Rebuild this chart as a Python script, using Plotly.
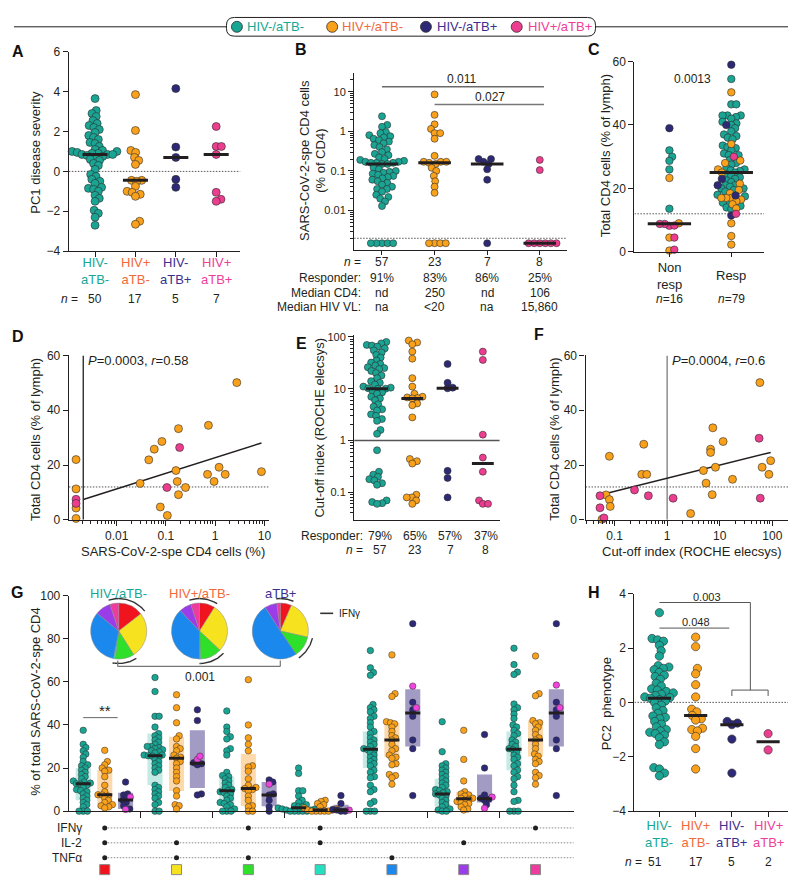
import numpy as np
import plotly.graph_objects as go

W, H = 796, 880
FONT = "Liberation Sans, Arial, Helvetica, sans-serif"
INK = "#231f20"

# ---------------- groups / colours ----------------
GROUP_NAMES = ["HIV-/aTB-", "HIV+/aTB-", "HIV-/aTB+", "HIV+/aTB+"]
GROUP_TICKS = ["HIV-<br>aTB-", "HIV+<br>aTB-", "HIV-<br>aTB+", "HIV+<br>aTB+"]
MARK = ["#19a493", "#f9a11b", "#2e2977", "#ec3d8f"]
TEXTC = ["#17a797", "#f2693b", "#3b3090", "#ee3e9a"]
MAGENTA = "#ee45dc"

# ---------------- panel A : PC1 disease severity ----------------
A_N = [50, 17, 5, 7]
A_TEAL = [3.65, 3.05, 2.9, 2.75, 2.55, 2.4, 2.3, 2.2, 2.1, 1.95, 1.8, 1.7, 1.6, 1.45, 1.4, 1.25, 1.1,
          1.05, 1.0, 1.0, 0.95, 0.9, 0.9, 0.85, 0.85, 0.85, 0.8, 0.75, 0.7, 0.6, 0.55, 0.4, 0.3, 0.1,
          -0.15, -0.25, -0.4, -0.5, -0.6, -0.8, -0.85, -0.9, -1.0, -1.2, -1.35, -1.5, -1.95, -2.1, -2.3, -2.7]
A_ORANGE = [3.85, 2.05, 1.05, 0.95, 0.7, 0.55, 0.35, -0.45, -0.45, -0.5, -0.75, -1.0, -1.05, -1.15, -1.25, -2.5, -2.65]
A_NAVY = [4.15, 1.22, 0.7, -0.4, -0.8]
A_PINK = [2.25, 1.25, 1.25, 0.85, -1.05, -1.4, -1.5]

# ---------------- panel B : SARS-CoV-2-specific CD4 (% of CD4) ----------------
B_ZERO = 0.0015          # plotted value of non-responders
B_LOD = 0.002            # detection threshold (dotted)
B_TEAL = [2.4, 1.45, 1.3, 0.95, 0.9, 0.8, 0.75, 0.7, 0.65, 0.6, 0.55, 0.5, 0.45, 0.4, 0.35, 0.3, 0.27, 0.25,
          0.22, 0.2, 0.19, 0.18, 0.17, 0.17, 0.16, 0.16, 0.16, 0.15, 0.15,
          0.12, 0.11, 0.1, 0.095, 0.09, 0.085, 0.08, 0.075, 0.07, 0.065, 0.06, 0.055, 0.05, 0.045, 0.04,
          0.035, 0.035, 0.03, 0.025, 0.022, 0.02, 0.017, 0.013]
B_ORANGE = [8.5, 2.6, 1.5, 1.15, 0.9, 0.9, 0.65, 0.24, 0.17, 0.17, 0.17, 0.16, 0.15, 0.12, 0.1, 0.075, 0.055, 0.04, 0.028]
B_NAVY = [0.2, 0.2, 0.17, 0.15, 0.11, 0.06]
B_PINK = [0.19, 0.105]
B_NONRESP = [5, 4, 1, 6]
B_N = ["57", "23", "7", "8"]
B_RESP = ["91%", "83%", "86%", "25%"]
B_CD4 = ["nd", "250", "nd", "106"]
B_VL = ["na", "&lt;20", "na", "15,860"]
B_PVALS = ["0.011", "0.027"]

# ---------------- panel C : total CD4 by responder status ----------------
C_CATS = ["Non<br>resp", "Resp"]
C_N = [16, 79]
C_NR = [[32, 30, 28.7, 26, 13.6], [23.3, 9, 4.5, 0.4], [39], [8.2, 8.8, 8.8, 8.3, 4.5, 0.7]]
C_R = [[54.5, 46.5, 46.5, 43, 43, 43, 42.5, 42, 41, 40.5, 40, 39, 38, 37, 36.5, 36, 35.5, 33.5, 33, 32.7,
        32, 31, 30.5, 30.5, 29, 28, 27.5, 26.5, 26, 25.7, 25.5, 25, 24.5, 24, 23.5, 23, 22.5, 22, 21, 21,
        20.5, 20, 20, 19.5, 19, 18, 17.5, 15.5, 15.5, 14.5, 14, 13.5],
       [50.3, 34, 28.8, 28, 26, 25, 21.5, 19.5, 18.5, 17, 17, 17, 16.5, 16, 15, 13.7, 9, 5, 2.3],
       [59, 40, 23, 21, 17.8, 11.5],
       [30, 12]]
C_P = "0.0013"
CD4_CUT = 12

# ---------------- panel D : CD4 vs SARS-CoV-2-spe CD4 ----------------
D_ZERO = 0.0015
D_VLINE = 0.0021
D_ORANGE_X = [2.75, 0.73, 0.18, 0.083, 0.058, 0.045, 0.16, 0.03, 1.2, 0.7, 1.6, 0.95, 0.17, 0.25, 0.18, 8.7, 0.077, 0.107]
D_ORANGE_Y = [50.1, 34.5, 33.3, 28.6, 25.8, 21.9, 18, 13.3, 19.2, 16.6, 16.6, 14, 14, 11.8, 9.2, 17.6, 4.7, 1.6]
D_ORANGE_ZERO_Y = [22, 11.3, 4.3, 0.5]
D_PINK_X = [0.19, 0.105]
D_PINK_Y = [26.4, 11.8]
D_PINK_ZERO_Y = [7.5, 6.0]
D_FIT = (22.7, 5.71)     # intercept, slope per decade
D_STAT = "<i>P</i>=0.0003, <i>r</i>=0.58"

# ---------------- panel E : cut-off index ----------------
E_TEAL = [80, 75, 70, 68, 65, 60, 55, 50, 45, 40, 35, 32, 30, 28, 26, 25, 24, 22, 20, 18, 16, 14, 13, 12, 11,
          10.5, 10.2, 10, 10, 9, 8.5, 8, 7, 6.5, 6, 5, 4.5, 4, 3.8, 3.2, 3.0, 2.6, 2.4, 1.6, 1.35,
          0.65, 0.25, 0.22, 0.2, 0.18, 0.17, 0.15, 0.14, 0.07, 0.065, 0.062, 0.06]
E_ORANGE = [85, 78, 72, 52, 38, 16, 11, 8, 7, 6.8, 6.6, 6.5, 5.2, 4.8, 2.8,
            0.44, 0.4, 0.36, 0.09, 0.08, 0.08, 0.07, 0.06]
E_NAVY = [30, 13, 10.5, 10.2, 0.26, 0.19, 0.08]
E_PINK = [52, 36, 1.3, 0.47, 0.25, 0.07, 0.06, 0.06]
E_RESP = ["79%", "65%", "57%", "37%"]
E_N = ["57", "23", "7", "8"]
E_CUT = 1

# ---------------- panel F : CD4 vs cut-off index ----------------
F_ORANGE_X = [58, 7.4, 6.7, 6.7, 11.6, 0.36, 0.33, 0.41, 0.08, 0.069, 0.08, 0.083, 4.9, 5.5, 8.3, 17.5, 7.2, 2.8, 64, 86, 93, 0.058]
F_ORANGE_Y = [50.1, 33.6, 25.8, 24.6, 28.6, 27.6, 16.6, 16.6, 23.2, 9.1, 7.4, 4.9, 18, 13.4, 19.2, 14.8, 9.2, 2.3, 19.2, 16.6, 21.6, 0.2]
F_PINK_X = [0.053, 0.053, 0.063, 0.24, 0.44, 1.3, 59, 56]
F_PINK_Y = [8.8, 4.4, 0.7, 10.9, 8.8, 7.9, 7.9, 29.8]
F_FIT = (15.2, 4.78)
F_STAT = "<i>P</i>=0.0004, <i>r</i>=0.6"

# ---------------- panel G : cytokine combinations ----------------
CYTO_COLORS = ["#f0141e", "#f7e21f", "#2fe02a", "#22e0c0", "#1a88ec", "#9a3ce8", "#ef3b9e"]
IFNG = [1, 0, 1, 1, 0, 0, 1]
IL2 = [1, 1, 0, 1, 0, 1, 0]
TNFA = [1, 1, 1, 0, 1, 0, 0]
ROW_LABELS = ["IFNγ", "IL-2", "TNFα"]
G_TEAL = [
    [37.5, 31, 29.5, 28, 26.5, 25, 23, 21.5, 21, 20, 19, 18, 17, 16, 15, 14, 13.5, 13, 12.7, 12.5, 12, 11, 10, 9.5, 9, 8, 7, 6, 5, 4, 3, 2, 0, 0, 0],
    [62, 55.5, 44, 44, 39, 36, 35, 34, 33, 32, 31, 30, 30, 29.5, 29, 28.5, 28, 27.5, 27, 26, 26, 25.7, 25.5, 25, 24, 23, 22, 21, 20, 19, 18, 12, 11, 10, 9, 8, 7, 6, 4, 3, 0, 0],
    [46.5, 39, 37, 34.5, 33.5, 29, 28, 26, 18, 16.5, 16, 15, 14, 13, 12, 11, 10, 9.5, 9, 8.5, 8, 7, 6, 5, 4, 3.5, 3, 2, 1, 0, 0, 0],
    [20, 17.5, 9.5, 9.5, 7, 5, 4, 3, 2.5, 2, 2, 1.5, 1.5, 1, 1, 0.5, 0.5, 0, 0, 0, 0, 0],
    [74.5, 66.5, 64.3, 63, 49.5, 48, 47, 46, 44, 43, 41, 39, 37, 36, 34, 33, 32, 31, 30, 29, 28.5, 28, 27, 26, 25, 24, 23, 22, 21, 19, 18, 16, 15.5, 12, 10, 9, 4.5, 3.5, 0, 0, 0],
    [41.5, 27.6, 22, 21, 20, 19, 18, 17, 16, 15, 14, 13, 12, 11, 10, 9.5, 9, 8.5, 8, 7.5, 7, 6, 5, 4, 3, 2, 1, 0.5, 0, 0],
    [75.6, 68, 64.5, 63.4, 49.7, 48, 47, 45, 43, 40, 39, 37.5, 36, 35, 33, 32, 31, 30, 29, 28.5, 27.5, 26, 25, 24, 22, 21, 19, 18, 16, 15, 12, 9, 5, 4.5, 0, 0, 0],
]
G_ORANGE = [
    [28.2, 23, 21.5, 20, 19, 18.5, 16, 12, 9, 7.6, 7.5, 7, 6, 5, 4, 3, 2.5, 2, 1.5],
    [54, 48, 41, 35, 33.5, 30, 29, 28, 26, 25, 24.5, 23, 22, 20, 18, 16, 14, 9.5, 7, 3, 2.5, 1],
    [61, 40, 34, 31, 28, 21, 20.5, 18.5, 15, 12, 11, 10.5, 10, 9.5, 7, 5, 2.5, 2, 0, 0],
    [5, 4.5, 3.5, 3, 2, 1.5, 1, 0.5, 0.5, 0, 0, 0, 0, 0],
    [72.5, 54.5, 53.2, 41.5, 41, 40.5, 39, 37, 35, 34, 33, 31, 29, 28, 26, 25, 24.5, 22, 21.5, 17, 16.5, 15.5, 12.5],
    [37.5, 24, 14, 9, 8, 7.5, 7, 6, 6, 5.5, 5, 4.5, 4, 3.5, 3, 2, 1, 0.5],
    [72, 54.5, 53.5, 42, 41, 40.5, 39, 37.5, 35.5, 34, 33, 31, 29, 26.5, 25.5, 24, 23, 22, 18, 16.5, 15.5, 12.5],
]
G_NAVY = [
    [13.5, 8, 7.5, 6, 5, 4, 2.5, 1],
    [47, 42, 22.5, 22, 21.5, 8, 7.5],
    [14.5, 13.5, 8, 7.5, 5, 2, 0],
    [7.2, 3.5, 0.8, 0.5, 0, 0],
    [87, 50.5, 47, 44, 33, 29, 7.2],
    [35.5, 20, 7.5, 6, 5.5, 5, 3],
    [87, 50.5, 47, 44, 33, 29, 7.2],
]
G_MAG = [[6.5, 0.8], [24, 25.5], [12.5], [0.5], [58, 48], [6.5, 1.3], [58.5, 48]]
G_MED = [[12.7, 25.7, 9.5, 1.6, 28.7, 8.0, 28.7],
         [7.6, 24.5, 10.5, 0.5, 33.0, 5.8, 33.0],
         [5.2, 22.2, 7.5, 0.5, 45.5, 5.8, 45.5]]
G_BOX_LO = [[5, 12, 3, 0, 20, 2, 19],
            [1.5, 9.3, 2.4, 0, 25, 2.5, 25.3],
            [1, 10.7, 2.3, 0, 30, 4, 30]]
G_BOX_HI = [[20, 36, 16, 4, 37, 15, 37],
            [19, 34.5, 26.5, 2, 41, 9, 42],
            [8.5, 37.5, 13.5, 3, 56.5, 17, 56.5]]
PIE_TITLES = ["HIV-/aTB-", "HIV+/aTB-", "aTB+"]
PIE_FRACS = [[0.145, 0.265, 0.11, 0.01, 0.33, 0.09, 0.05],
             [0.09, 0.28, 0.125, 0.005, 0.38, 0.07, 0.05],
             [0.065, 0.22, 0.12, 0.0, 0.505, 0.07, 0.02]]
G_P = "0.001"

# ---------------- panel H : PC2 phenotype ----------------
H_N = [51, 17, 5, 2]
H_TEAL = [3.3, 2.35, 2.3, 2.25, 2.1, 1.9, 1.7, 1.35, 1.3, 1.25, 1.2, 1.1, 1.0, 0.95, 0.85, 0.7, 0.6, 0.5, 0.45,
          0.4, 0.35, 0.3, 0.25, 0.2, 0.18, 0.15, 0.1, 0.05, 0.0, -0.1, -0.2, -0.3, -0.4, -0.5, -0.55, -0.6,
          -0.7, -0.8, -0.9, -1.0, -1.05, -1.1, -1.15, -1.2, -1.3, -1.45, -1.55, -2.4, -2.45, -2.6, -2.7]
H_ORANGE = [2.4, 2.05, 1.25, 1.05, 0.65, 0.2, -0.25, -0.35, -0.48, -0.6, -0.65, -0.95, -1.0, -1.05, -1.25, -1.7, -2.45]
H_NAVY = [-0.7, -0.76, -0.82, -1.35, -2.6]
H_PINK = [-1.15, -1.75]
H_PVALS = ["0.003", "0.048"]

# ======================= layout geometry (pixels) =======================
GEOM = {  # left, right, top, bottom
    'A': (61, 233, 37.3, 240), 'B': (347, 560, 59, 239), 'C': (628, 758, 47.3, 240.7),
    'D': (61, 262, 346, 513), 'E': (347, 493, 325, 513), 'F': (579, 790, 346, 513),
    'G': (61, 567, 590, 809), 'H': (628, 786, 588, 809)}
XR = {'A': [-0.65, 3.6], 'B': [-0.53, 3.51], 'C': [-0.565, 1.53], 'D': [-2.97, 1.1],
      'E': [-0.65, 3.48], 'F': [-1.55, 2.45], 'G': [-0.5, 6.53], 'H': [-0.69, 3.66]}
YR = {'A': [-4, 6], 'B': [-3, 1.47], 'C': [0, 60], 'D': [0, 60], 'E': [-1.53, 2.04],
      'F': [0, 60], 'G': [0, 100], 'H': [-4, 4]}
AX = {'A': ('x', 'y'), 'B': ('x2', 'y2'), 'C': ('x3', 'y3'), 'D': ('x4', 'y4'),
      'E': ('x5', 'y5'), 'F': ('x6', 'y6'), 'G': ('x7', 'y7'), 'H': ('x8', 'y8')}


def fx(px):
    return px / W


def fy(py):
    return 1 - py / H


def ppu(p):
    l, r, t, b = GEOM[p]
    return (r - l) / (XR[p][1] - XR[p][0]), (b - t) / (YR[p][1] - YR[p][0])


def swarm_px(tvals, ppu_y, d):
    tv = np.asarray(tvals, float)
    ys = tv * ppu_y
    order = np.argsort(ys, kind="stable")
    placed = []
    out = np.zeros(len(tv))
    for i in order:
        y = ys[i]
        near = [(px, py) for (px, py) in placed if abs(py - y) < d]
        cands = [0.0]
        for px, py in near:
            dx = np.sqrt(max(d * d - (py - y) ** 2, 0.0))
            cands += [px + dx, px - dx]
        cands = sorted(set(np.round(cands, 5)), key=lambda c: (abs(c), -c))
        chosen = 0.0
        for c in cands:
            if all((c - px) ** 2 + (y - py) ** 2 >= d * d - 1e-4 for px, py in near):
                chosen = c
                break
        placed.append((chosen, y))
        out[i] = chosen
    return out


fig = go.Figure()
ann = []
shapes = []


def T(text, x, y, size=12, color=INK, xanchor="center", yanchor="middle", xref="x10", yref="y10", angle=0):
    ann.append(dict(text=text, x=x, y=y, xref=xref, yref=yref, showarrow=False,
                    font=dict(family=FONT, size=size, color=color),
                    xanchor=xanchor, yanchor=yanchor, textangle=angle))


def L(x0, y0, x1, y1, color=INK, width=1, xref="x10", yref="y10"):
    shapes.append(dict(type="line", x0=x0, y0=y0, x1=x1, y1=y1, xref=xref, yref=yref,
                       line=dict(color=color, width=width)))


def line_trace(xs, ys, xa, ya, color=INK, width=1.0, dash=None):
    fig.add_trace(go.Scatter(x=list(xs), y=list(ys), mode="lines",
                             line=dict(color=color, width=width, dash=dash),
                             xaxis=xa, yaxis=ya, showlegend=False, hoverinfo="skip", cliponaxis=False))


def dots(xs, ys, colors, size, xa, ya, lw=0.6, symbol="circle", lc="#2d2d2d"):
    fig.add_trace(go.Scatter(x=list(xs), y=list(ys), mode="markers",
                             marker=dict(size=size, color=colors, symbol=symbol, line=dict(color=lc, width=lw)),
                             xaxis=xa, yaxis=ya, showlegend=False, hoverinfo="skip", cliponaxis=False))


DOT = "1.5px,1.5px"

# ---------------- A ----------------
xa, ya = AX['A']
pxA, pyA = ppu('A')
line_trace(XR['A'], [0, 0], xa, ya, color="#555", width=1, dash=DOT)
A_SETS = [A_TEAL, A_ORANGE, A_NAVY, A_PINK]
for i, vals in enumerate(A_SETS):
    off = swarm_px(vals, pyA, 5.2) / pxA
    dots(i + off, vals, MARK[i], 8, xa, ya)
for i, vals in enumerate(A_SETS):
    line_trace([i - 0.31, i + 0.31], [np.median(vals)] * 2, xa, ya, width=3)
for i in range(4):
    T(GROUP_TICKS[i], i, 260, size=13, color=TEXTC[i], xref=xa)
    T(str(A_N[i]), i, 289, size=12, xref=xa)
T("<i>n</i> =", 72, 289, size=12, xanchor="right")
T("PC1 disease severity", 28, 139, size=13, angle=-90)

# ---------------- B ----------------
xa, ya = AX['B']
pxB, pyB = ppu('B')
line_trace([-0.53, 3.51], [B_LOD, B_LOD], xa, ya, color="#555", width=1, dash=DOT)
B_SETS = [B_TEAL, B_ORANGE, B_NAVY, B_PINK]
B_ALL = []
for i, pos in enumerate(B_SETS):
    vals = np.array(pos + [B_ZERO] * B_NONRESP[i])
    B_ALL.append(vals)
    off = swarm_px(np.log10(vals), pyB, 5.6) / pxB
    dots(i + off, vals, MARK[i], 7, xa, ya)
for i, vals in enumerate(B_ALL):
    line_trace([i - 0.31, i + 0.31], [np.median(vals)] * 2, xa, ya, width=3)
L(0, 73, 3.08, 73, color=INK, width=1, xref=xa)
L(1, 91, 3.08, 91, color="#777", width=1.6, xref=xa)
T(B_PVALS[0], 1.52, 65, size=12, xref=xa)
T(B_PVALS[1], 2.05, 83, size=12, xref=xa)
rows = [("<i>n</i> =", B_N, 251), ("Responder:", B_RESP, 267), ("Median CD4:", B_CD4, 282), ("Median HIV VL:", B_VL, 297)]
for lab, vals, yy in rows:
    T(lab, 356, yy, size=12, xanchor="right")
    for i, v in enumerate(vals):
        T(v, i, yy, size=12, xref=xa)
T("SARS-CoV-2-spe CD4 cells<br>(% of CD4)", 305, 148, size=13, angle=-90)

# ---------------- C ----------------
xa, ya = AX['C']
pxC, pyC = ppu('C')
line_trace(XR['C'], [CD4_CUT, CD4_CUT], xa, ya, color="#555", width=1, dash=DOT)
C_SETS = [C_NR, C_R]
for i, parts in enumerate(C_SETS):
    vals = np.concatenate([np.asarray(p, float) for p in parts])
    cols = sum([[MARK[k]] * len(p) for k, p in enumerate(parts)], [])
    off = swarm_px(vals, pyC, 5.0) / pxC
    dots(i + off, vals, cols, 7.5, xa, ya)
    line_trace([i - 0.35, i + 0.35], [np.median(vals)] * 2, xa, ya, width=3)
for i in range(2):
    T(C_CATS[i], i, 265, size=13, xref=xa)
    T("<i>n</i>=%d" % C_N[i], i, 289, size=12, xref=xa)
T(C_P, 0.37, 54.5, size=12, xref=xa, yref=ya)
T("Total CD4 cells (% of lymph)", 599, 143, size=13, angle=-90)

# ---------------- D ----------------
xa, ya = AX['D']
line_trace([10 ** XR['D'][0], 10 ** XR['D'][1]], [CD4_CUT, CD4_CUT], xa, ya, color="#555", width=1, dash=DOT)
line_trace([D_VLINE, D_VLINE], [0, 60], xa, ya, width=1.3)
xs = np.logspace(np.log10(D_VLINE), np.log10(max(D_ORANGE_X)), 40)
line_trace(xs, D_FIT[0] + D_FIT[1] * np.log10(xs), xa, ya, width=1.5)
dots(D_ORANGE_X + [D_ZERO] * len(D_ORANGE_ZERO_Y), D_ORANGE_Y + D_ORANGE_ZERO_Y, MARK[1], 8, xa, ya)
dots(D_PINK_X + [D_ZERO] * len(D_PINK_ZERO_Y), D_PINK_Y + D_PINK_ZERO_Y, MARK[3], 8, xa, ya)
T(D_STAT, 78, 351, size=13, xanchor="left")
T("SARS-CoV-2-spe CD4 cells (%)", 165, 545, size=13)
T("Total CD4 cells (% of lymph)", 27, 431, size=13, angle=-90)

# ---------------- E ----------------
xa, ya = AX['E']
pxE, pyE = ppu('E')
line_trace(XR['E'], [E_CUT, E_CUT], xa, ya, color="#555", width=1.5)
E_SETS = [E_TEAL, E_ORANGE, E_NAVY, E_PINK]
for i, vals in enumerate(E_SETS):
    off = swarm_px(np.log10(vals), pyE, 5.2) / pxE
    dots(i + off, vals, MARK[i], 7, xa, ya)
for i, vals in enumerate(E_SETS):
    line_trace([i - 0.31, i + 0.31], [np.median(vals)] * 2, xa, ya, width=3)
T("Responder:", 358, 529, size=12, xanchor="right")
T("<i>n</i> =", 358, 544, size=12, xanchor="right")
for i in range(4):
    T(E_RESP[i], i + 0.08, 529, size=12, xref=xa)
    T(E_N[i], i + 0.08, 544, size=12, xref=xa)
T("Cut-off index (ROCHE elecsys)", 312, 419, size=13, angle=-90)

# ---------------- F ----------------
xa, ya = AX['F']
line_trace([10 ** XR['F'][0], 10 ** XR['F'][1]], [CD4_CUT, CD4_CUT], xa, ya, color="#555", width=1, dash=DOT)
line_trace([E_CUT, E_CUT], [0, 60], xa, ya, color="#555", width=1)
allx = F_ORANGE_X + F_PINK_X
xs = np.logspace(np.log10(min(allx)), np.log10(max(allx)), 40)
line_trace(xs, F_FIT[0] + F_FIT[1] * np.log10(xs), xa, ya, width=1.5)
dots(F_ORANGE_X, F_ORANGE_Y, MARK[1], 8, xa, ya)
dots(F_PINK_X, F_PINK_Y, MARK[3], 8, xa, ya)
T(F_STAT, 664, 351, size=13, xanchor="left")
T("Cut-off index (ROCHE elecsys)", 686, 545, size=13)
T("Total CD4 cells (% of lymph)", 548, 431, size=13, angle=-90)

# ---------------- G ----------------
xa, ya = AX['G']
pxG, pyG = ppu('G')
G_OFF = [-0.3, 0.0, 0.29]
BOXC = ["rgba(60,185,170,0.30)", "rgba(250,170,70,0.45)", "rgba(85,75,150,0.55)"]
for g in range(7):
    for c in range(3):
        x0 = g + G_OFF[c]
        lo, hi = G_BOX_LO[c][g], G_BOX_HI[c][g]
        fig.add_trace(go.Scatter(x=[x0 - 0.105, x0 + 0.105, x0 + 0.105, x0 - 0.105, x0 - 0.105],
                                 y=[lo, lo, hi, hi, lo], mode="lines", fill="toself", fillcolor=BOXC[c],
                                 line=dict(width=0), xaxis=xa, yaxis=ya, showlegend=False, hoverinfo="skip"))
for g in range(7):
    for c, (vals, cols) in enumerate([(G_TEAL[g], [MARK[0]] * len(G_TEAL[g])),
                                      (G_ORANGE[g], [MARK[1]] * len(G_ORANGE[g])),
                                      (G_NAVY[g] + G_MAG[g], [MARK[2]] * len(G_NAVY[g]) + [MAGENTA] * len(G_MAG[g]))]):
        off = swarm_px(vals, pyG, 4.2) / pxG
        dots(g + G_OFF[c] + off, vals, cols, 6.5, xa, ya, lw=0.5)
for g in range(7):
    for c in range(3):
        x0 = g + G_OFF[c]
        line_trace([x0 - 0.105, x0 + 0.105], [G_MED[c][g]] * 2, xa, ya, width=3)
# "**"
L(-0.3, 714, 0.18, 714, color="#666", width=1, xref=xa)
T("**", 0.0, 707, size=15, xref=xa)
# cytokine matrix
for r, flags in enumerate([IFNG, IL2, TNFA]):
    line_trace([0, 6.55], [r, r], xa, "y9", color="#8a8a8a", width=1, dash=DOT)
    gx = [g for g in range(7) if flags[g]]
    dots(gx, [r] * len(gx), INK, 5, xa, "y9", lw=0)
    T(ROW_LABELS[r], 76, r, size=12, xanchor="right", yref="y9")
dots(list(range(7)), [2.8] * 7, CYTO_COLORS, 10, xa, "y9", lw=1, symbol="square", lc="#8a8a8a")
T("% of total SARS-CoV-2-spe CD4", 28, 697, size=13, angle=-90)

# pies
PIE_CX = [111, 192, 273]
PIE_CY = 626
PIE_R = 28.5
R_ARC = 33
for k in range(3):
    cx = PIE_CX[k]
    fig.add_trace(go.Pie(values=PIE_FRACS[k], marker=dict(colors=CYTO_COLORS, line=dict(color="#8a8a8a", width=0.5)),
                         sort=False, direction="clockwise", rotation=0, textinfo="none", hoverinfo="skip",
                         showlegend=False,
                         domain=dict(x=[fx(cx - PIE_R), fx(cx + PIE_R)], y=[fy(PIE_CY + PIE_R), fy(PIE_CY - PIE_R)])))
    fr = np.asarray(PIE_FRACS[k], float)
    fr = fr / fr.sum()
    cum = np.concatenate([[0], np.cumsum(fr)])
    for s in range(7):
        if IFNG[s] and fr[s] > 0:
            th = np.linspace(cum[s], cum[s + 1], 30) * 2 * np.pi
            line_trace(cx + R_ARC * np.sin(th), PIE_CY - R_ARC * np.cos(th), "x10", "y10", color="#333", width=1.4)
    T(PIE_TITLES[k], cx, 588, size=13, color=[TEXTC[0], TEXTC[1], TEXTC[2]][k])
line_trace([313, 326], [608, 608], "x10", "y10", color="#333", width=1.6)
T("IFNγ", 330, 608, size=10, xanchor="left")
L(110, 656, 110, 662, color="#777", width=1.2)
L(110, 662, 273, 662, color="#777", width=1.2)
L(273, 662, 273, 656, color="#777", width=1.2)
T(G_P, 192, 673, size=12)

# ---------------- H ----------------
xa, ya = AX['H']
pxH, pyH = ppu('H')
line_trace(XR['H'], [0, 0], xa, ya, color="#555", width=1, dash=DOT)
H_SETS = [H_TEAL, H_ORANGE, H_NAVY, H_PINK]
for i, vals in enumerate(H_SETS):
    off = swarm_px(vals, pyH, 5.8) / pxH
    dots(i + off, vals, MARK[i], 8.3, xa, ya)
for i, vals in enumerate(H_SETS):
    line_trace([i - 0.32, i + 0.32], [np.median(vals)] * 2, xa, ya, width=3)
L(0, 597, 2.51, 597, color="#555", width=1, xref=xa)
L(2.51, 597, 2.51, 686, color="#555", width=1, xref=xa)
L(2.0, 686, 3.0, 686, color="#555", width=1, xref=xa)
L(2.0, 686, 2.0, 692, color="#555", width=1, xref=xa)
L(3.0, 686, 3.0, 692, color="#555", width=1, xref=xa)
L(0, 623, 1.93, 623, color="#555", width=1, xref=xa)
T(H_PVALS[0], 1.3, 591, size=11, xref=xa)
T(H_PVALS[1], 1.0, 617, size=11, xref=xa)
for i in range(4):
    T(GROUP_TICKS[i], i, 832, size=13, color=TEXTC[i], xref=xa)
    T(str(H_N[i]), i - (0.13 if i == 0 else 0), 861, size=12, xref=xa)
T("<i>n</i> =", 638, 861, size=12, xanchor="right")
T("PC2  phenotype", 600, 700, size=13, angle=-90)

# ---------------- top legend ----------------
L(6, 12, 219, 12, width=1)
L(589, 12, 790, 12, width=1)
rr = 8
x0b, x1b, y0b, y1b = 219, 589, 2.5, 21.5
shapes.append(dict(type="path", xref="x10", yref="y10", layer="below", line=dict(color=INK, width=1),
                   path=f"M {x0b+rr},{y0b} L {x1b-rr},{y0b} Q {x1b},{y0b} {x1b},{y0b+rr} L {x1b},{y1b-rr} "
                        f"Q {x1b},{y1b} {x1b-rr},{y1b} L {x0b+rr},{y1b} Q {x0b},{y1b} {x0b},{y1b-rr} "
                        f"L {x0b},{y0b+rr} Q {x0b},{y0b} {x0b+rr},{y0b} Z"))
LEG_MX = [229.5, 325, 419, 510]
LEG_TX = [238, 333, 428, 519]
dots(LEG_MX, [12] * 4, MARK, 11, "x10", "y10", lw=0.8)
for i in range(4):
    T(GROUP_NAMES[i], LEG_TX[i], 12, size=13, color=TEXTC[i], xanchor="left")

# ---------------- panel letters ----------------
for lab, (px_, py_) in {"A": (10, 37), "B": (294, 35), "C": (587, 35), "D": (10, 327),
                        "E": (294, 334), "F": (532, 325), "G": (9, 587), "H": (587, 587)}.items():
    T("<b>%s</b>" % lab, px_, py_, size=16, color="#111")


# ---------------- axes ----------------
def base_axis():
    return dict(showline=True, linecolor=INK, linewidth=1.3, ticks="outside", tickcolor=INK, tickwidth=1.2,
                ticklen=5, showgrid=False, zeroline=False, fixedrange=True,
                tickfont=dict(family=FONT, size=12, color=INK))


def minor_log(lo, hi):
    return [m * 10.0 ** e for e in range(lo, hi) for m in range(2, 10)]


AXKW = {
    'A': (dict(tickvals=[0, 1, 2, 3], showticklabels=False),
          dict(tickvals=[-4, -2, 0, 2, 4, 6])),
    'B': (dict(tickvals=[0, 1, 2, 3], showticklabels=False, ticklen=4),
          dict(type="log", tickvals=[0.01, 0.1, 1, 10], ticktext=["0.01", "0.1", "1", "10"],
               tickfont=dict(family=FONT, size=11, color=INK),
               minor=dict(tickvals=[v for v in minor_log(-3, 2) if v < 29], ticks="outside", ticklen=3, tickcolor=INK))),
    'C': (dict(tickvals=[0, 1], showticklabels=False, ticklen=4),
          dict(tickvals=[0, 20, 40, 60])),
    'D': (dict(type="log", tickvals=[0.01, 0.1, 1, 10], ticktext=["0.01", "0.1", "1", "10"],
               minor=dict(tickvals=[v for v in minor_log(-3, 2) if 0.00108 < v < 12.5], ticks="outside", ticklen=3, tickcolor=INK)),
          dict(tickvals=[0, 20, 40, 60])),
    'E': (dict(tickvals=[0, 1, 2, 3], showticklabels=False, ticks=""),
          dict(type="log", tickvals=[0.1, 1, 10, 100], ticktext=["0.1", "1", "10", "100"],
               tickfont=dict(family=FONT, size=11, color=INK),
               minor=dict(tickvals=[v for v in minor_log(-2, 3) if 0.03 < v < 109], ticks="outside", ticklen=3, tickcolor=INK))),
    'F': (dict(type="log", tickvals=[0.1, 1, 10, 100], ticktext=["0.1", "1", "10", "100"],
               minor=dict(tickvals=[v for v in minor_log(-2, 3) if 0.029 < v < 280], ticks="outside", ticklen=3, tickcolor=INK)),
          dict(tickvals=[0, 20, 40, 60])),
    'G': (dict(tickvals=[0.5, 1.5, 2.5, 3.5, 4.5, 5.5], showticklabels=False, ticklen=6),
          dict(tickvals=[0, 20, 40, 60, 80, 100])),
    'H': (dict(tickvals=[0, 1, 2, 3], showticklabels=False),
          dict(tickvals=[-4, -2, 0, 2, 4])),
}

layout_axes = {}
for p in "ABCDEFGH":
    xa, ya = AX[p]
    l, r, t, b = GEOM[p]
    xd = base_axis()
    xd.update(domain=[fx(l), fx(r)], range=XR[p], anchor=ya)
    xd.update(AXKW[p][0])
    yd = base_axis()
    yd.update(domain=[fy(b), fy(t)], range=YR[p], anchor=xa)
    yd.update(AXKW[p][1])
    layout_axes["xaxis" + xa[1:]] = xd
    layout_axes["yaxis" + ya[1:]] = yd

layout_axes["yaxis9"] = dict(domain=[fy(876), fy(818.5)], range=[3.3, -0.5], visible=False, anchor="x7", fixedrange=True)
layout_axes["xaxis10"] = dict(domain=[0, 1], range=[0, W], visible=False, anchor="y10", fixedrange=True)
layout_axes["yaxis10"] = dict(domain=[0, 1], range=[H, 0], visible=False, anchor="x10", fixedrange=True)

fig.update_layout(width=W, height=H, margin=dict(l=0, r=0, t=0, b=0),
                  paper_bgcolor="white", plot_bgcolor="rgba(0,0,0,0)",
                  font=dict(family=FONT, color=INK), showlegend=False,
                  annotations=ann, shapes=shapes, **layout_axes)

fig.write_html("out.html")
